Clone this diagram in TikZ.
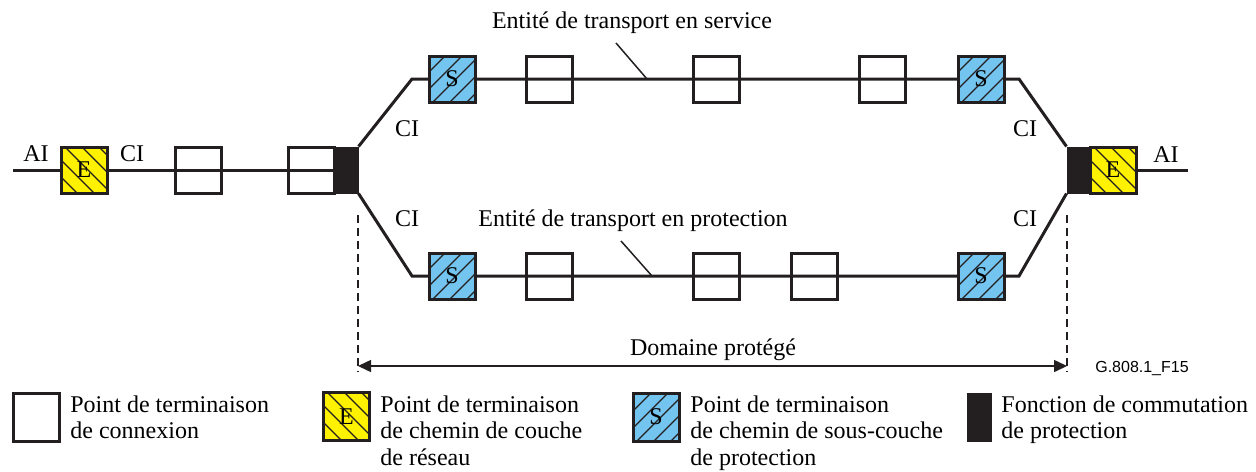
\documentclass[tikz,border=0pt]{standalone}
\usepackage{fontspec}
\setmainfont{Liberation Serif}
\newfontfamily\figsans{Liberation Sans}
\usetikzlibrary{arrows.meta,backgrounds}
\definecolor{lc}{RGB}{35,31,32}
\definecolor{eyellow}{RGB}{255,242,0}
\definecolor{sblue}{RGB}{115,197,240}
\begin{document}
\begin{tikzpicture}[x=0.5pt,y=-0.5pt,
  font=\fontsize{12}{13.25}\selectfont,
  wire/.style={draw=lc, line width=1.5pt},
  cbox/.style={draw=lc, line width=1.5pt, minimum width=23pt, minimum height=23pt, inner sep=0pt},
  ebox/.style={cbox, fill=eyellow,
    path picture={\foreach \k in {-3,...,3}{\draw[lc,line width=0.6pt]
      ([xshift=\k*8.5pt+2pt]path picture bounding box.north west) -- ++(30pt,-30pt);}}},
  sbox/.style={cbox, fill=sblue,
    path picture={\foreach \k in {-3,...,3}{\draw[lc,line width=0.6pt]
      ([xshift=\k*8.5pt+2pt]path picture bounding box.south west) -- ++(30pt,30pt);}}},
  switchbox/.style={fill=lc, draw=lc, line width=0.5pt, minimum width=12pt, minimum height=23pt, inner sep=0pt},
  lbl/.style={anchor=base, inner sep=0pt},
  leader/.style={draw=lc, line width=0.75pt},
  bound/.style={draw=lc, line width=0.6pt, dash pattern=on 4pt off 2.5pt},
  legtext/.style={anchor=base west, inner sep=0pt},
]
\useasboundingbox (0,0) rectangle (1256,471);

% ---- main chain, left side
\node[ebox] (E1) at (84,170) {E};
\node[cbox] (C1) at (198,170) {};
\node[cbox] (C2) at (311,170) {};
\node[switchbox] (P1) at (346,170) {};

% ---- working entity (upper)
\node[sbox] (S1) at (452,79) {S};
\node[cbox] (C3) at (549,79) {};
\node[cbox] (C4) at (716,79) {};
\node[cbox] (C5) at (882,79) {};
\node[sbox] (S2) at (981,79) {S};

% ---- protection entity (lower)
\node[sbox] (S3) at (452,276) {S};
\node[cbox] (C6) at (549,276) {};
\node[cbox] (C7) at (716,276) {};
\node[cbox] (C8) at (814,276) {};
\node[sbox] (S4) at (981,276) {S};

% ---- right side
\node[switchbox] (P2) at (1079,170) {};
\node[ebox] (E2) at (1113,170) {E};

\coordinate (inL) at (13,170);
\coordinate (outR) at (1188,170);
\coordinate (bUL) at (412,79);
\coordinate (bUR) at (1019,79);
\coordinate (bLL) at (412,276);
\coordinate (bLR) at (1019,276);

\begin{scope}[on background layer]
  \draw[wire] (inL) -- (E1.center) -- (C1.center) -- (C2.center) -- (P1.center);
  \draw[wire] (P1.north east) -- (bUL) -- (S1.center) -- (C3.center) -- (C4.center)
              -- (C5.center) -- (S2.center) -- (bUR) -- (P2.north west);
  \draw[wire] (P1.south east) -- (bLL) -- (S3.center) -- (C6.center) -- (C7.center)
              -- (C8.center) -- (S4.center) -- (bLR) -- (P2.south west);
  \draw[wire] (E2.center) -- (outR);
\end{scope}

% ---- interface labels
\node[lbl] (aiL) at (36,161) {AI};
\node[lbl] (ciL) at (132,161) {CI};
\node[lbl] (ciUL) at (407,136) {CI};
\node[lbl] (ciLL) at (407,226) {CI};
\node[lbl] (ciUR) at (1025,136) {CI};
\node[lbl] (ciLR) at (1025,226) {CI};
\node[lbl] (aiR) at (1166,162) {AI};

% ---- entity titles with leaders
\node[lbl] (tWork) at (632,28) {Entité de transport en service};
\node[lbl] (tProt) at (633,226) {Entité de transport en protection};
\coordinate (lwA) at (616,43);
\coordinate (lwB) at (647,79);
\coordinate (lpA) at (621,241);
\coordinate (lpB) at (652,276);
\draw[leader] (lwA) -- (lwB);
\draw[leader] (lpA) -- (lpB);

% ---- protected domain
\coordinate (dL0) at (358,215);
\coordinate (dL1) at (358,372);
\coordinate (dR0) at (1067,215);
\coordinate (dR1) at (1067,372);
\draw[bound] (dL0) -- (dL1);
\draw[bound] (dR0) -- (dR1);
\coordinate (aL) at (358,366);
\coordinate (aR) at (1067,366);
\draw[lc, line width=0.75pt, {Triangle[length=6.5pt,width=6pt]}-{Triangle[length=6.5pt,width=6pt]}] (aL) -- (aR);
\node[lbl] (dom) at (713,355) {Domaine protégé};
\node[lbl, font=\figsans\fontsize{8}{9.6}\selectfont] (fig) at (1142,372) {G.808.1\_F15};

% ---- legend
\node[cbox, minimum height=24pt] (LC) at (36,417) {};
\node[ebox, minimum height=24pt] (LE) at (346.5,416.5) {E};
\node[sbox, minimum height=24pt] (LS) at (656,417) {S};
\node[switchbox, minimum height=24pt] (LP) at (979,417) {};
\node[legtext] (tLC) at (70,412) {\vtop{\hbox{Point de terminaison}\hbox{de connexion}}};
\node[legtext] (tLE) at (380,412) {\vtop{\hbox{Point de terminaison}\hbox{de chemin de couche}\hbox{de réseau}}};
\node[legtext] (tLS) at (690,412) {\vtop{\hbox{Point de terminaison}\hbox{de chemin de sous-couche}\hbox{de protection}}};
\node[legtext] (tLP) at (1001,412) {\vtop{\hbox{Fonction de commutation}\hbox{de protection}}};
\end{tikzpicture}
\end{document}
